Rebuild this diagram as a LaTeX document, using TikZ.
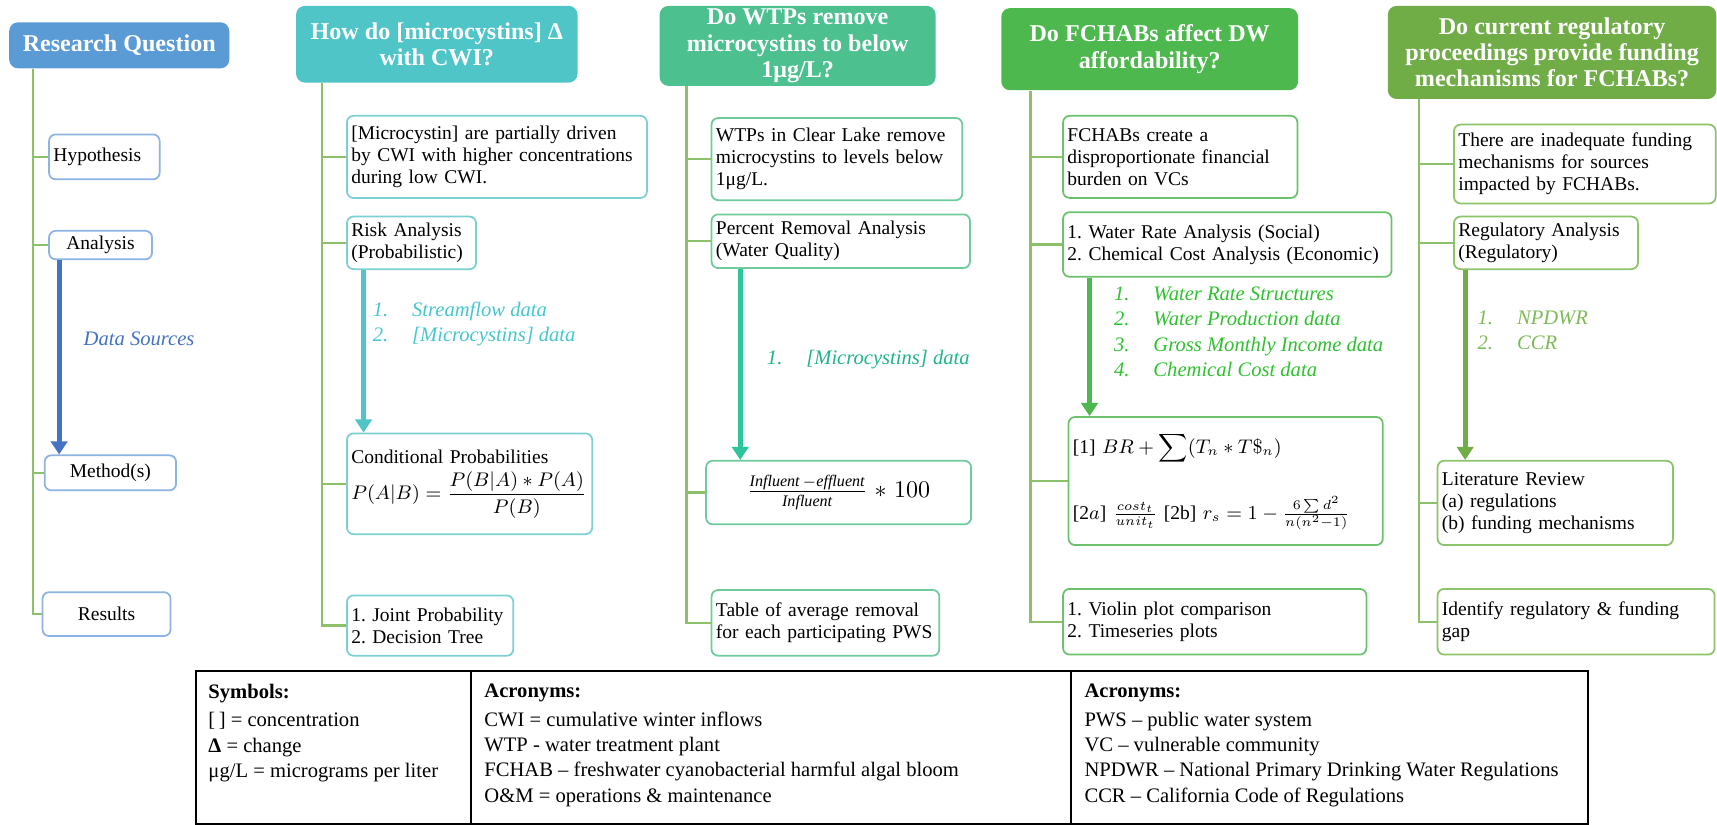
\documentclass[tikz,border=0pt]{standalone}
\usepackage{fontspec}
\setmainfont{Liberation Serif}
\usepackage{amsmath}
\usetikzlibrary{arrows.meta,positioning,calc}
\frenchspacing

\definecolor{rqblue}{HTML}{5B9BD5}
\definecolor{boxblue}{HTML}{8DB3E2}
\definecolor{flowblue}{HTML}{4472C4}
\definecolor{trunkgreen}{HTML}{8CC16A}
\definecolor{cwiteal}{HTML}{4FC5C8}
\definecolor{cwiline}{HTML}{7CD0D2}
\definecolor{cwitext}{HTML}{45C7CF}
\definecolor{wtpgreen}{HTML}{4CC08E}
\definecolor{wtpline}{HTML}{6FCB9E}
\definecolor{wtpflow}{HTML}{2EC59C}
\definecolor{wtptext}{HTML}{1FB48C}
\definecolor{dwgreen}{HTML}{4DB84D}
\definecolor{dwline}{HTML}{6CC26C}
\definecolor{dwtext}{HTML}{2EC22E}
\definecolor{regolive}{HTML}{70AD47}
\definecolor{regline}{HTML}{8CC46A}
\definecolor{regtext}{HTML}{7DBA58}

\newcommand\hdfont{\fontsize{11}{12}\selectfont\bfseries}
\newcommand\txtfont{\fontsize{8.9}{10}\selectfont}
\newcommand\datfont{\fontsize{9.4}{11.5}\selectfont\itshape}
\newcommand\legfont{\fontsize{9.4}{11.6}\selectfont}
\newcommand\num[1]{\makebox[18pt][l]{#1}}

\begin{document}
\begin{tikzpicture}[
  x=0.5pt, y=-0.5pt,
  hdr/.style={fill=#1, rounded corners=4pt, text=white, font=\hdfont, align=center, anchor=north west, inner sep=1pt},
  box/.style={draw=#1, fill=white, line width=0.8pt, rounded corners=3pt, anchor=north west, align=left, font=\txtfont, inner xsep=2pt, inner ysep=1pt},
  trunk/.style={draw=trunkgreen, line width=1.1pt},
  flow/.style={draw=#1, line width=2.2pt, -{Triangle[length=6pt,width=7.5pt]}},
  data/.style={text=#1, font=\datfont, align=left, anchor=west, inner sep=0pt},
  leg/.style={font=\legfont, align=left, anchor=north west, inner sep=0pt}
]
\fill[white] (0,0) rectangle (1568,753);
\useasboundingbox (0,0) rectangle (1568,753);

% research question column
\node[hdr=rqblue, minimum width=100.5pt, minimum height=21pt] (rq) at (8,20) {Research Question};
\node[box=boxblue, text width=46.5pt, minimum height=20.5pt] (hyp1) at (44,122) {Hypothesis};
\node[box=boxblue, text width=43pt, minimum height=13pt, align=center] (ana1) at (44,210) {Analysis};
\node[box=boxblue, text width=56pt, minimum height=16pt, align=center] (met1) at (40,415) {Method(s)};
\node[box=boxblue, text width=54.5pt, minimum height=20pt, align=center] (res1) at (38,540) {Results};
\coordinate (t1) at (30,0);
\draw[trunk] (rq.south -| t1) |- (res1.west);
\foreach \b in {hyp1,ana1,met1} \draw[trunk] (t1 |- \b.west) -- (\b.west);
\draw[flow=flowblue] (ana1.south -| 54,0) -- (met1.north -| 54,0);
\node[data=flowblue, anchor=center] (ds1) at (127,309) {Data Sources};

% microcystins and CWI
\node[hdr=cwiteal, minimum width=128.5pt, minimum height=35pt] (q2) at (270,5) {How do [microcystins] Δ\\with CWI?};
\node[box=cwiline, text width=133pt, minimum height=37.5pt] (hyp2) at (316,105) {[Microcystin] are partially driven\\by CWI with higher concentrations\\during low CWI.};
\node[box=cwiline, text width=55pt, minimum height=24pt] (ana2) at (316,197) {Risk Analysis\\(Probabilistic)};
\node[box=cwiline, text width=108pt, minimum height=46pt] (met2) at (316,395) {Conditional Probabilities\\[3pt]
  $P(A|B) = \dfrac{P(B|A) * P(A)}{P(B)}$};
\node[box=cwiline, text width=72pt, minimum height=27.5pt] (res2) at (316,543) {1. Joint Probability\\2. Decision Tree};
\coordinate (t2) at (294,0);
\draw[trunk] (q2.south -| t2) |- (res2.west);
\foreach \b in {hyp2,ana2,met2} \draw[trunk] (t2 |- \b.west) -- (\b.west);
\draw[flow=cwiteal] (ana2.south -| 332,0) -- (met2.north -| 332,0);
\node[data=cwitext] (ds2) at (340,296) {\num{1.}Streamflow data\\\num{2.}[Microcystins] data};

% WTP removal
\node[hdr=wtpgreen, minimum width=126pt, minimum height=36.5pt] (q3) at (602,5) {Do WTPs remove\\microcystins to below\\1μg/L?};
\node[box=wtpline, text width=110.5pt, minimum height=37.5pt] (hyp3) at (649,107) {WTPs in Clear Lake remove\\microcystins to levels below\\1μg/L.};
\node[box=wtpline, text width=114pt, minimum height=24.5pt] (ana3) at (649,195) {Percent Removal Analysis\\(Water Quality)};
\node[box=wtpline, text width=117pt, minimum height=29pt, align=center, font=\fontsize{10.5}{12}\selectfont] (met3) at (644,420)
  {$\tfrac{\mathit{Influent}\,-\mathit{effluent}}{\mathit{Influent}} * 100$};
\node[box=wtpline, text width=100pt, minimum height=30pt] (res3) at (649,538) {Table of average removal\\for each participating PWS};
\coordinate (t3) at (627,0);
\draw[trunk] (q3.south -| t3) |- (res3.west);
\foreach \b in {hyp3,ana3,met3} \draw[trunk] (t3 |- \b.west) -- (\b.west);
\draw[flow=wtpflow] (ana3.south -| 676,0) -- (met3.north -| 676,0);
\node[data=wtptext] (ds3) at (700,328) {\num{1.}[Microcystins] data};

% DW affordability
\node[hdr=dwgreen, minimum width=135.5pt, minimum height=37.5pt] (q4) at (914,7) {Do FCHABs affect DW\\affordability?};
\node[box=dwline, text width=103pt, minimum height=37.5pt] (hyp4) at (970,105) {FCHABs create a\\disproportionate financial\\burden on VCs};
\node[box=dwline, text width=146pt, minimum height=29.5pt] (ana4) at (970,193) {1. Water Rate Analysis (Social)\\2. Chemical Cost Analysis (Economic)};
\node[box=dwline, text width=139.5pt, minimum height=58.5pt] (met4) at (975,380)
  {[1] $BR + \displaystyle\sum(T_n * T\$_n)$\\[14pt]
   {[2$a$]} $\tfrac{cost_t}{unit_t}$ [2b] $r_s = 1 - \tfrac{6\sum d^2}{n(n^2-1)}$};
\node[box=dwline, text width=134.5pt, minimum height=30pt] (res4) at (970,537) {1. Violin plot comparison\\2. Timeseries plots};
\coordinate (t4) at (941,0);
\draw[trunk] (q4.south -| t4) |- (res4.west);
\foreach \b in {hyp4,ana4,met4} \draw[trunk] (t4 |- \b.west) -- (\b.west);
\draw[flow=dwgreen] (ana4.south -| 995,0) -- (met4.north -| 995,0);
\node[data=dwtext] (ds4) at (1017,303) {\num{1.}Water Rate Structures\\\num{2.}Water Production data\\\num{3.}Gross Monthly Income data\\\num{4.}Chemical Cost data};

% regulatory funding
\node[hdr=regolive, minimum width=150pt, minimum height=42.5pt] (q5) at (1267,5) {Do current regulatory\\proceedings provide funding\\mechanisms for FCHABs?};
\node[box=regline, text width=115.5pt, minimum height=36pt] (hyp5) at (1327,113) {There are inadequate funding\\mechanisms for sources\\impacted by FCHABs.};
\node[box=regline, text width=80pt, minimum height=24pt] (ana5) at (1327,197) {Regulatory Analysis\\(Regulatory)};
\node[box=regline, text width=103.5pt, minimum height=38.5pt] (met5) at (1312,420) {Literature Review\\(a) regulations\\(b) funding mechanisms};
\node[box=regline, text width=122.5pt, minimum height=30pt] (res5) at (1312,537) {Identify regulatory \& funding\\gap};
\coordinate (t5) at (1296,0);
\draw[trunk] (q5.south -| t5) |- (res5.west);
\foreach \b in {hyp5,ana5,met5} \draw[trunk] (t5 |- \b.west) -- (\b.west);
\draw[flow=regolive] (ana5.south -| 1338,0) -- (met5.north -| 1338,0);
\node[data=regtext] (ds5) at (1349,302) {\num{1.}NPDWR\\\num{2.}CCR};

% legend table
\node[draw, line width=0.9pt, anchor=north west, minimum width=635.5pt, minimum height=70pt, inner sep=0pt] (legend) at (178,612) {};
\draw[line width=0.9pt] (legend.north -| 430,0) -- (legend.south -| 430,0);
\draw[line width=0.9pt] (legend.north -| 978,0) -- (legend.south -| 978,0);
\node[leg] (sym) at (190,624) {\textbf{Symbols:}\\[1.5pt] {[\,]} = concentration\\ \textbf{Δ} = change\\ μg/L = micrograms per liter};
\node[leg] (acr1) at (442,624) {\textbf{Acronyms:}\\[1.5pt]CWI = cumulative winter inflows\\WTP - water treatment plant\\FCHAB – freshwater cyanobacterial harmful algal bloom\\O\&M = operations \& maintenance};
\node[leg] (acr2) at (990,624) {\textbf{Acronyms:}\\[1.5pt]PWS – public water system\\VC – vulnerable community\\NPDWR – National Primary Drinking Water Regulations\\CCR – California Code of Regulations};
\end{tikzpicture}
\end{document}
